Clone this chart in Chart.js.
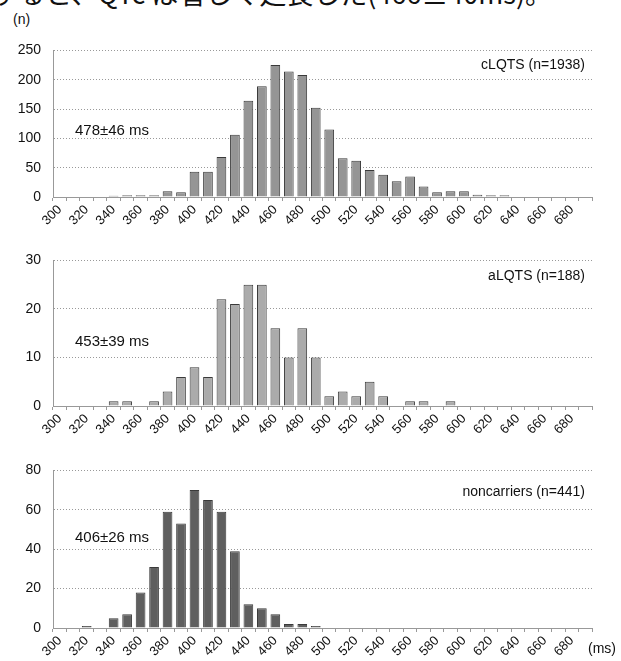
<!DOCTYPE html>
<html lang="ja">
<head>
    <meta charset="UTF-8">
    <title>QTc分布</title>
    <script src="https://cdn.jsdelivr.net/npm/chart.js"></script>
    <style>
        body {
            margin: 0;
            background: #fff;
        }

        #wrap {
            position: relative;
            width: 621px;
            height: 661px;
            overflow: hidden;
            font-family: "Liberation Sans", Arial, sans-serif;
            color: #111;
        }

        canvas {
            position: absolute;
            left: 0;
        }

        #topLine {
            position: absolute;
            left: -9px;
            top: -21px;
            font-family: "Noto Sans CJK JP", sans-serif;
            font-size: 27px;
            line-height: 27px;
            white-space: nowrap;
        }

        #unitN {
            position: absolute;
            left: 13px;
            top: 11px;
            font-size: 14px;
        }

        #unitMs {
            position: absolute;
            left: 588px;
            top: 640px;
            font-size: 14px;
        }
    </style>
</head>
<body>
<div id="wrap">
    <div id="topLine">すると、QTc は著しく延長した(466±40ms)。</div>
    <div id="unitN">(n)</div>
    <canvas id="c1" width="621" height="210" style="top:30px"></canvas>
    <canvas id="c2" width="621" height="210" style="top:240px"></canvas>
    <canvas id="c3" width="621" height="211" style="top:450px"></canvas>
    <div id="unitMs">(ms)</div>
</div>

<script>
    // QTc bins (ms), 10 ms wide
    const qtcBins = [300, 310, 320, 330, 340, 350, 360, 370, 380, 390,
        400, 410, 420, 430, 440, 450, 460, 470, 480, 490,
        500, 510, 520, 530, 540, 550, 560, 570, 580, 590,
        600, 610, 620, 630, 640, 650, 660, 670, 680, 690];

    const cLQTS = [0, 0, 0, 0, 2, 3, 3, 3, 10, 8,
        43, 43, 68, 106, 164, 189, 225, 214, 208, 152,
        115, 66, 62, 46, 38, 27, 35, 18, 8, 10,
        10, 4, 3, 3, 1, 1, 0, 1, 1, 0];

    const aLQTS = [0, 0, 0, 0, 1, 1, 0, 1, 3, 6,
        8, 6, 22, 21, 25, 25, 16, 10, 16, 10,
        2, 3, 2, 5, 2, 0, 1, 1, 0, 1,
        0, 0, 0, 0, 0, 0, 0, 0, 0, 0];

    const noncarriers = [0, 0, 1, 0, 5, 7, 18, 31, 59, 53,
        70, 65, 59, 39, 12, 10, 7, 2, 2, 1,
        0, 0, 0, 0, 0, 0, 0, 0, 0, 0,
        0, 0, 0, 0, 0, 0, 0, 0, 0, 0];

    const panelNames = ['cLQTS (n=1938)', 'aLQTS (n=188)', 'noncarriers (n=441)'];
    const panelStats = ['478±46 ms', '453±39 ms', '406±26 ms'];
    const yMaxes = [250, 30, 80];
    const ySteps = [50, 10, 20];

    const notesPlugin = {
        id: 'notes',
        afterDraw(chart, args, opts) {
            const ctx = chart.ctx;
            const a = chart.chartArea;
            ctx.save();
            ctx.fillStyle = '#111';
            ctx.textBaseline = 'middle';
            ctx.font = '14px "Liberation Sans", Arial, sans-serif';
            ctx.textAlign = 'right';
            ctx.fillText(opts.name, a.right - 7, a.top + opts.nameDy);
            ctx.font = '15px "Liberation Sans", Arial, sans-serif';
            ctx.textAlign = 'left';
            ctx.fillText(opts.stat, a.left + 22, a.top + opts.statDy);
            ctx.restore();
        }
    };

    function makePanel(id, values, i, fill, padTop, xHeight, nameDy, statDy) {
        const ctx = document.getElementById(id).getContext('2d');
        return new Chart(ctx, {
            type: 'bar',
            data: {
                labels: qtcBins,
                datasets: [{
                    data: values,
                    backgroundColor: fill,
                    borderColor: '#3a3a3a',
                    borderWidth: 1,
                    barPercentage: 0.72,
                    categoryPercentage: 1
                }]
            },
            options: {
                responsive: false,
                animation: false,
                layout: {padding: {top: padTop, right: 29, left: 0, bottom: 0}},
                plugins: {
                    legend: {display: false},
                    tooltip: {enabled: false},
                    notes: {name: panelNames[i], stat: panelStats[i], nameDy: nameDy, statDy: statDy}
                },
                scales: {
                    x: {
                        offset: true,
                        grid: {offset: true, drawOnChartArea: false, tickLength: 4, color: '#999'},
                        border: {display: true, color: '#999', dash: [1, 2]},
                        ticks: {
                            autoSkip: false,
                            minRotation: 45,
                            maxRotation: 45,
                            padding: 1,
                            color: '#111',
                            font: {family: '"Liberation Sans", Arial, sans-serif', size: 13},
                            callback: function (v, idx) {
                                return idx % 2 === 0 ? this.getLabelForValue(v) : '';
                            }
                        },
                        afterFit: s => { s.height = xHeight; }
                    },
                    y: {
                        min: 0,
                        max: yMaxes[i],
                        ticks: {
                            stepSize: ySteps[i],
                            padding: 12,
                            color: '#111',
                            font: {family: '"Liberation Sans", Arial, sans-serif', size: 14}
                        },
                        grid: {color: '#999', drawTicks: false},
                        border: {display: true, color: '#999', dash: [1, 2]},
                        afterFit: s => { s.width = 53; }
                    }
                }
            },
            plugins: [notesPlugin]
        });
    }

    makePanel('c1', cLQTS, 0, '#959595', 12, 43, 15, 80);
    makePanel('c2', aLQTS, 1, '#ababab', 17, 44, 16, 81);
    makePanel('c3', noncarriers, 2, '#5f5f5f', 11, 33, 22, 67);
</script>
</body>
</html>
